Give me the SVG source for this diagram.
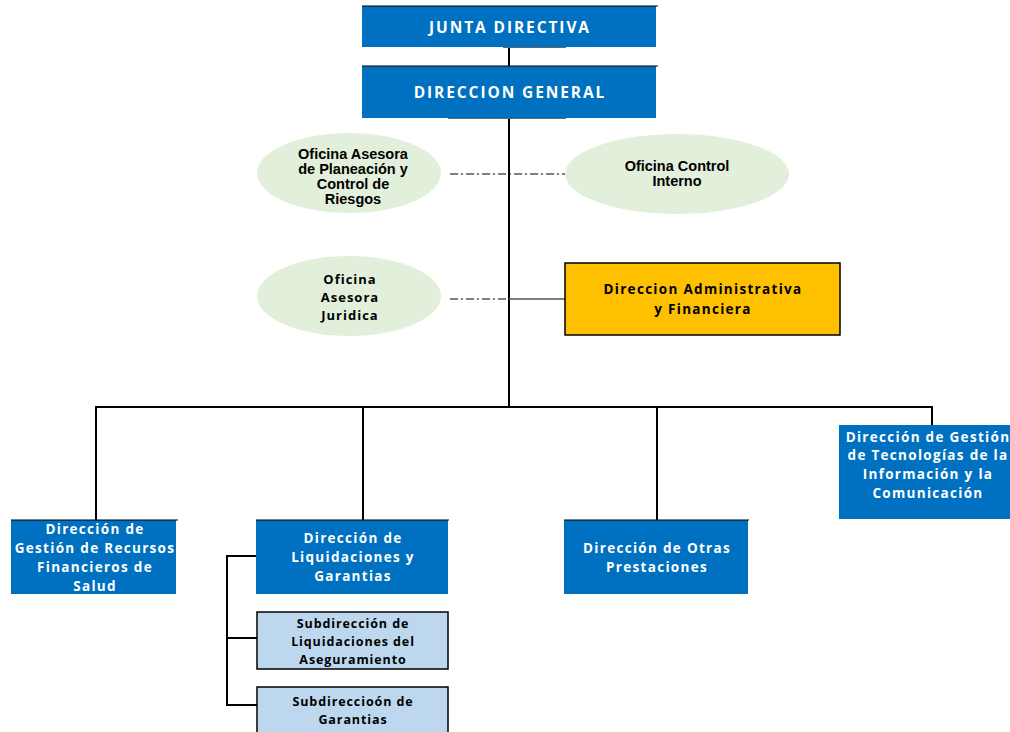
<svg xmlns="http://www.w3.org/2000/svg" width="1010" height="732" viewBox="0 0 1010 732">
<style>
.blue{fill:#0070C0}
.sub{fill:#BDD7EE;stroke:#000;stroke-width:1.5}
.ell{fill:#E2EFDA}
.tw{font-family:"Open Sans","Liberation Sans",sans-serif;font-weight:bold;fill:#fff;text-anchor:middle;font-size:13.5px;letter-spacing:1.3px}
.tb{font-family:"Open Sans","Liberation Sans",sans-serif;font-weight:bold;fill:#000;text-anchor:middle}
.ta{font-family:"Liberation Sans",Arial,sans-serif;font-weight:bold;fill:#000;text-anchor:middle;font-size:14.5px}
.hd{font-size:15.5px;letter-spacing:1.9px}
.ln{stroke:#000;stroke-width:2;fill:none}
.dd{stroke:#000;stroke-width:1;fill:none;stroke-dasharray:8 3 2 3}
.top{stroke:#000;stroke-width:1.2}
</style>
<g id="connectors">
<path class="ln" d="M509 47V66M509 118V407M96 407H932M96 406V520M363 406V520M657 406V520M932 406V425"/>
<path class="dd" d="M450 174H565M450 299H509"/>
<path stroke="#555" stroke-width="1.5" d="M509 299H565"/>
<path class="ln" d="M257 556H227V705H257M227 638H257"/>
<path stroke="#666" stroke-width="1" d="M503 47.5H566M448 118.5H566"/>
</g>
<g id="junta">
<rect class="blue" x="362" y="6" width="294" height="41"/>
<line class="top" x1="362" y1="6" x2="658" y2="6"/>
<text class="tw hd" x="510" y="33">JUNTA DIRECTIVA</text>
</g>
<g id="direccion-general">
<rect class="blue" x="362" y="66" width="294" height="52"/>
<line class="top" x1="362" y1="66" x2="658" y2="66"/>
<text class="tw hd" x="510" y="98">DIRECCION GENERAL</text>
</g>
<g id="oficina-planeacion">
<ellipse class="ell" cx="349" cy="173" rx="92" ry="40"/>
<text class="ta" x="353" y="159">Oficina Asesora</text>
<text class="ta" x="353" y="174">de Planeación y</text>
<text class="ta" x="353" y="189">Control de</text>
<text class="ta" x="353" y="204">Riesgos</text>
</g>
<g id="oficina-control">
<ellipse class="ell" cx="677" cy="174" rx="112" ry="40"/>
<text class="ta" x="677" y="171">Oficina Control</text>
<text class="ta" x="677" y="186">Interno</text>
</g>
<g id="oficina-juridica">
<ellipse class="ell" cx="349" cy="296" rx="92" ry="40"/>
<text class="tb" x="350" y="284" font-size="13" letter-spacing="1">Oficina</text>
<text class="tb" x="350" y="302" font-size="13" letter-spacing="1">Asesora</text>
<text class="tb" x="350" y="320" font-size="13" letter-spacing="1">Juridica</text>
</g>
<g id="dir-administrativa">
<rect x="565" y="263" width="275" height="72" fill="#FFC000" stroke="#000" stroke-width="1.5"/>
<text class="tb" x="703" y="294" font-size="13.5" letter-spacing="1.3">Direccion Administrativa</text>
<text class="tb" x="703" y="314" font-size="13.5" letter-spacing="1.3">y Financiera</text>
</g>
<g id="dir-recursos">
<rect class="blue" x="11" y="520" width="165" height="74"/>
<line class="top" x1="11" y1="520" x2="178" y2="520"/>
<text class="tw" x="95" y="534">Dirección  de</text>
<text class="tw" x="95" y="553">Gestión de Recursos</text>
<text class="tw" x="95" y="572">Financieros de</text>
<text class="tw" x="95" y="591">Salud</text>
</g>
<g id="dir-liquidaciones">
<rect class="blue" x="256" y="520" width="192" height="74"/>
<line class="top" x1="256" y1="520" x2="449" y2="520"/>
<text class="tw" x="353" y="543">Dirección  de</text>
<text class="tw" x="353" y="562">Liquidaciones y</text>
<text class="tw" x="353" y="581">Garantias</text>
</g>
<g id="dir-otras">
<rect class="blue" x="564" y="520" width="184" height="74"/>
<line class="top" x1="564" y1="520" x2="749" y2="520"/>
<text class="tw" x="657" y="553">Dirección  de Otras</text>
<text class="tw" x="657" y="572">Prestaciones</text>
</g>
<g id="dir-tecnologias">
<rect class="blue" x="839" y="425" width="171" height="94"/>
<text class="tw" x="928" y="442" letter-spacing="0.9">Dirección de Gestión</text>
<text class="tw" x="928" y="460" letter-spacing="0.9">de Tecnologías de la</text>
<text class="tw" x="928" y="479">Información y la</text>
<text class="tw" x="928" y="498">Comunicación</text>
</g>
<g id="sub-aseguramiento">
<rect class="sub" x="257" y="612" width="191" height="57"/>
<text class="tb" x="353" y="628" font-size="12.5" letter-spacing="0.9">Subdirección de</text>
<text class="tb" x="353" y="646" font-size="12.5" letter-spacing="0.9">Liquidaciones del</text>
<text class="tb" x="353" y="664" font-size="12.5" letter-spacing="0.9">Aseguramiento</text>
</g>
<g id="sub-garantias">
<rect class="sub" x="257" y="687" width="191" height="50"/>
<text class="tb" x="353" y="706" font-size="12.5" letter-spacing="0.9">Subdireccioón de</text>
<text class="tb" x="353" y="724" font-size="12.5" letter-spacing="0.9">Garantias</text>
</g>
</svg>
